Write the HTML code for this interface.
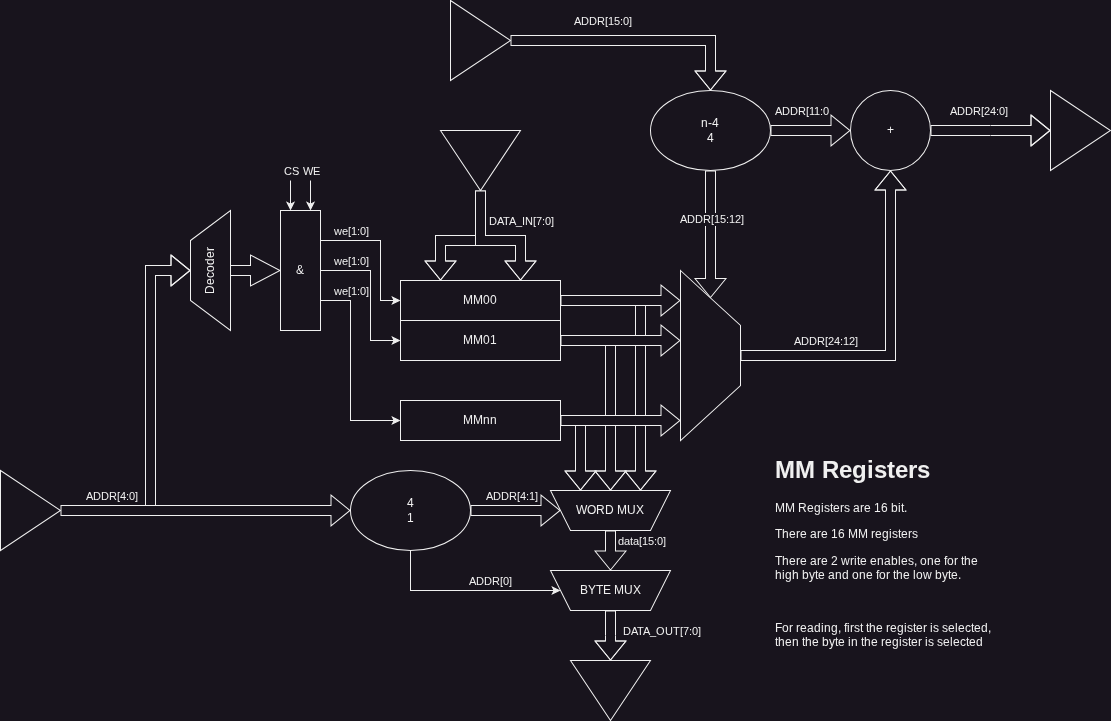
<!DOCTYPE html>
<html><head><meta charset="utf-8"><style>
html,body{margin:0;padding:0;-webkit-font-smoothing:antialiased;background:#18141D;width:1111px;height:721px;overflow:hidden}
body{position:relative}
svg{will-change:transform}
svg .s{fill:#18141D;stroke:#F0F0F0;stroke-width:1.001}
svg .l{fill:none;stroke:#F0F0F0;stroke-width:1.001}
svg .a{fill:#F0F0F0;stroke:#F0F0F0;stroke-width:1.001;stroke-miterlimit:10}
svg text{font-family:"Liberation Sans",sans-serif;fill:#F0F0F0;white-space:pre;font-kerning:none}
</style></head><body>
<svg width="1111" height="721" viewBox="0 0 1111 721" style="position:absolute;left:0;top:0">
<g transform="translate(0.5,0.5)">
<polygon points="450,0 510,40 450,80" class="s"/>
<polygon points="510.5,45 705,45 705,70.5 694.5,70.5 710,89.5 725.5,70.5 715,70.5 715,35 510.5,35" class="s" stroke-miterlimit="1.42"/><polyline points="705,70.5 694.5,70.5 710,89.5 725.5,70.5 715,70.5" class="l" stroke-miterlimit="4"/>
<ellipse cx="710" cy="130" rx="60" ry="40" class="s"/>
<polygon points="770.5,135 830.5,135 830.5,145.5 849.5,130 830.5,114.5 830.5,125 770.5,125" class="s"/>
<ellipse cx="890" cy="130" rx="40" ry="40" class="s"/>
<polygon points="930.5,135 1030.5,135 1030.5,145.5 1049.5,130 1030.5,114.5 1030.5,125 930.5,125" class="s" stroke-miterlimit="1.42"/><polyline points="1030.5,135 1030.5,145.5 1049.5,130 1030.5,114.5 1030.5,125" class="l" stroke-miterlimit="4"/>
<polygon points="1050,90 1110,130 1050,170" class="s"/>
<polygon points="705,170.5 705,278 694.5,278 710,297 725.5,278 715,278 715,170.5" class="s"/>
<polygon points="740.5,360 895,360 895,189.5 905.5,189.5 890,170.5 874.5,189.5 885,189.5 885,350 740.5,350" class="s" stroke-miterlimit="1.42"/><polyline points="895,189.5 905.5,189.5 890,170.5 874.5,189.5 885,189.5" class="l" stroke-miterlimit="4"/>
<polygon points="440,130 520,130 480,190" class="s"/>
<polygon points="475,190.5 475,235 435,235 435,260.5 424.5,260.5 440,279.5 455.5,260.5 445,260.5 445,245 485,245 485,190.5" class="s" stroke-miterlimit="1.42"/><polyline points="435,260.5 424.5,260.5 440,279.5 455.5,260.5 445,260.5" class="l" stroke-miterlimit="4"/>
<polygon points="475,190.5 475,245 515,245 515,260.5 504.5,260.5 520,279.5 535.5,260.5 525,260.5 525,235 485,235 485,190.5" class="s" stroke-miterlimit="1.42"/><polyline points="515,260.5 504.5,260.5 520,279.5 535.5,260.5 525,260.5" class="l" stroke-miterlimit="4"/>
<rect x="400" y="280" width="160" height="40" class="s"/>
<rect x="400" y="320" width="160" height="40" class="s"/>
<rect x="400" y="400" width="160" height="40" class="s"/>
<polygon points="560.5,305 635,305 635,470.5 624.5,470.5 640,489.5 655.5,470.5 645,470.5 645,295 560.5,295" class="s" stroke-miterlimit="1.42"/><polyline points="635,470.5 624.5,470.5 640,489.5 655.5,470.5 645,470.5" class="l" stroke-miterlimit="4"/>
<polygon points="560.5,305 660.5,305 660.5,315.5 679.5,300 660.5,284.5 660.5,295 560.5,295" class="s"/>
<polygon points="560.5,345 605,345 605,470.5 594.5,470.5 610,489.5 625.5,470.5 615,470.5 615,335 560.5,335" class="s" stroke-miterlimit="1.42"/><polyline points="605,470.5 594.5,470.5 610,489.5 625.5,470.5 615,470.5" class="l" stroke-miterlimit="4"/>
<polygon points="560.5,345 660.5,345 660.5,355.5 679.5,340 660.5,324.5 660.5,335 560.5,335" class="s"/>
<polygon points="560.5,425 575,425 575,470.5 564.5,470.5 580,489.5 595.5,470.5 585,470.5 585,415 560.5,415" class="s" stroke-miterlimit="1.42"/><polyline points="575,470.5 564.5,470.5 580,489.5 595.5,470.5 585,470.5" class="l" stroke-miterlimit="4"/>
<polygon points="560.5,425 660.5,425 660.5,435.5 679.5,420 660.5,404.5 660.5,415 560.5,415" class="s"/>
<polygon points="680,270 740,325 740,385 680,440" class="s"/>
<polygon points="190,240 230,210 230,330 190,300" class="s"/>
<rect x="280" y="210" width="40" height="120" class="s"/>
<polygon points="230,275 250,275 250,285.5 279.5,270 250,254.5 250,265 230,265" class="s"/>
<polyline points="290,180 290,203.63" class="l"/><polygon points="290,208.88 286.5,201.88 290,203.63 293.5,201.88" class="a"/>
<polyline points="310,180 310,203.63" class="l"/><polygon points="310,208.88 306.5,201.88 310,203.63 313.5,201.88" class="a"/>
<polyline points="320,240 380,240 380,300 393.63,300" class="l"/><polygon points="398.88,300 391.88,303.5 393.63,300 391.88,296.5" class="a"/>
<polyline points="320,270 370,270 370,340 393.63,340" class="l"/><polygon points="398.88,340 391.88,343.5 393.63,340 391.88,336.5" class="a"/>
<polyline points="320,300 350,300 350,420 393.63,420" class="l"/><polygon points="398.88,420 391.88,423.5 393.63,420 391.88,416.5" class="a"/>
<polygon points="0,470 60,510 0,550" class="s"/>
<polygon points="155,509.5 155,275 170.5,275 170.5,285.5 189.5,270 170.5,254.5 170.5,265 145,265 145,509.5" class="s" stroke-miterlimit="1.42"/><polyline points="170.5,275 170.5,285.5 189.5,270 170.5,254.5 170.5,265" class="l" stroke-miterlimit="4"/>
<polygon points="60.5,515 330.5,515 330.5,525.5 349.5,510 330.5,494.5 330.5,505 60.5,505" class="s"/>
<ellipse cx="410" cy="510" rx="60" ry="40" class="s"/>
<polygon points="470.5,515 540.5,515 540.5,525.5 559.5,510 540.5,494.5 540.5,505 470.5,505" class="s"/>
<polygon points="550,490 670,490 650,530 570,530" class="s"/>
<polygon points="605,530.5 605,550.5 594.5,550.5 610,569.5 625.5,550.5 615,550.5 615,530.5" class="s"/>
<polyline points="410,550 410,590 553.63,590" class="l"/><polygon points="558.88,590 551.88,593.5 553.63,590 551.88,586.5" class="a"/>
<polygon points="550,570 670,570 650,610 570,610" class="s"/>
<polygon points="605,610.5 605,640.5 594.5,640.5 610,659.5 625.5,640.5 615,640.5 615,610.5" class="s" stroke-miterlimit="1.42"/><polyline points="605,640.5 594.5,640.5 610,659.5 625.5,640.5 615,640.5" class="l" stroke-miterlimit="4"/>
<polygon points="570,660 650,660 610,720" class="s"/>
</g>
<rect x="574" y="15" width="58" height="13" fill="#18141D"/>
<rect x="775" y="105" width="54.18" height="13" fill="#18141D"/>
<rect x="950" y="105" width="58" height="13" fill="#18141D"/>
<rect x="680" y="213" width="64" height="13" fill="#18141D"/>
<rect x="794" y="335" width="64" height="13" fill="#18141D"/>
<rect x="489" y="215" width="65.37" height="13" fill="#18141D"/>
<rect x="334" y="225" width="35" height="13" fill="#18141D"/>
<rect x="334" y="255" width="35" height="13" fill="#18141D"/>
<rect x="334" y="285" width="35" height="13" fill="#18141D"/>
<rect x="86" y="490" width="52" height="13" fill="#18141D"/>
<rect x="486" y="490" width="52" height="13" fill="#18141D"/>
<rect x="469" y="575" width="43" height="13" fill="#18141D"/>
<rect x="618" y="535" width="48" height="13" fill="#18141D"/>
<rect x="623" y="625" width="78.37" height="13" fill="#18141D"/>
<rect x="990" y="125" width="1" height="1" fill="#18141D" opacity="0.45"/>
<rect x="990" y="135" width="1" height="1" fill="#18141D" opacity="0.45"/>
<rect x="605" y="635" width="1" height="1" fill="#18141D" opacity="0.3"/>
<rect x="615" y="635" width="1" height="1" fill="#18141D" opacity="0.3"/>
<text x="701 708 712" y="127" font-size="12">n-4</text>
<text x="707" y="142" font-size="12">4</text>
<text x="887" y="134" font-size="12">+</text>
<text x="296" y="274" font-size="12">&amp;</text>
<text x="463 473 483 490" y="304" font-size="12">MM00</text>
<text x="463 473 483 490" y="344" font-size="12">MM01</text>
<text x="463 473 483 490" y="424" font-size="12">MMnn</text>
<text x="407" y="507" font-size="12">4</text>
<text x="407" y="522" font-size="12">1</text>
<text x="576 587 596 605 614 617 627 636" y="514" font-size="12">WORD MUX</text>
<text x="580 588 596 603 611 614 624 633" y="594" font-size="12">BYTE MUX</text>
<text x="284 292" y="175" font-size="11">CS</text>
<text x="303 313" y="175" font-size="11">WE</text>
<text transform="translate(214,294) rotate(-90)" x="0 9 16 22 29 36 43" y="0" font-size="12">Decoder</text>
<text x="574 581 589 597 605 608 614 620 623 629" y="25" font-size="11">ADDR[15:0]</text>
<text x="775 782 790 798 806 809 814 820 823" y="115" font-size="11">ADDR[11:0</text>
<text x="950 957 965 973 981 984 990 996 999 1005" y="115" font-size="11">ADDR[24:0]</text>
<text x="680 687 695 703 711 714 720 726 729 735 741" y="223" font-size="11">ADDR[15:12]</text>
<text x="794 801 809 817 825 828 834 840 843 849 855" y="345" font-size="11">ADDR[24:12]</text>
<text x="489 497 503 509 516 522 525 533 536 542 545 551" y="225" font-size="11">DATA_IN[7:0]</text>
<text x="334 342 348 351 357 360 366" y="235" font-size="11">we[1:0]</text>
<text x="334 342 348 351 357 360 366" y="265" font-size="11">we[1:0]</text>
<text x="334 342 348 351 357 360 366" y="295" font-size="11">we[1:0]</text>
<text x="86 93 101 109 117 120 126 129 135" y="500" font-size="11">ADDR[4:0]</text>
<text x="486 493 501 509 517 520 526 529 535" y="500" font-size="11">ADDR[4:1]</text>
<text x="469 476 484 492 500 503 509" y="585" font-size="11">ADDR[0]</text>
<text x="618 624 630 633 639 642 648 654 657 663" y="545" font-size="11">data[15:0]</text>
<text x="623 631 637 643 650 656 665 673 680 683 689 692 698" y="635" font-size="11">DATA_OUT[7:0]</text>
<text x="775 795 815 822 839 852 867 874 887 895 908 917" y="478" font-size="24" font-weight="bold">MM Registers</text>
<text x="775 785 795 798 807 814 821 824 830 833 840 844 850 853 860 864 871 874 881 888 891 898 901 904" y="512" font-size="12">MM Registers are 16 bit.</text>
<text x="775 782 789 796 800 807 810 817 821 828 831 838 845 848 858 868 871 875 882 889 892 898 901 908 912" y="538" font-size="12">There are 16 MM registers</text>
<text x="775 782 789 796 800 807 810 817 821 828 831 838 841 850 854 857 860 867 870 877 884 891 898 901 908 914 917 920 927 934 941 944 947 954 958 961 964 971" y="565" font-size="12">There are 2 write enables, one for the</text>
<text x="775 782 785 792 799 802 809 815 818 825 828 835 842 849 852 859 866 873 876 879 886 890 893 896 903 910 913 916 923 932 935 942 948 951 958" y="579" font-size="12">high byte and one for the low byte.</text>
<text x="775 782 789 793 796 800 807 814 821 824 831 838 841 844 847 850 854 860 863 866 869 876 883 886 890 897 904 907 913 916 923 927 930 933 939 942 948 955 958 965 971 974 981 988" y="632" font-size="12">For reading, first the register is selected,</text>
<text x="775 778 785 792 799 802 805 812 819 822 829 835 838 845 848 851 858 861 864 871 878 881 885 892 899 902 908 911 918 922 925 928 934 937 943 950 953 960 966 969 976" y="646" font-size="12">then the byte in the register is selected</text>
</svg>
</body></html>
